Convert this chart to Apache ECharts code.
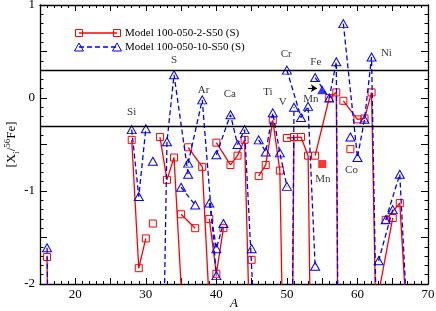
<!DOCTYPE html>
<html><head><meta charset="utf-8">
<script src="https://cdn.jsdelivr.net/npm/echarts@6/dist/echarts.min.js"></script>
<style>html,body{margin:0;padding:0;background:#fff}#c{width:436px;height:311px}</style>
</head><body><div id="c"></div>
<script>
// Elements and their stable isotopes (mass numbers A)
const elements = ['O','Si','P','S','Cl','Ar','K','Ca','Sc','Ti','V','Cr','Fe','Co','Ni','Cu','Zn'];
const isotopes = [[16,17,18],[28,29,30],[31],[32,33,34,36],[35,37],[36,38,40],[39,40,41],[40,42,43,44,46,48],[45],[46,47,48,49,50],[50,51],[50,52,53,54],[54,56,57,58],[59],[58,60,61,62,64],[63,65],[64,66,67,68,70]];
// [X_i/56Fe] for Model 100-050-2-S50 (S)  (values below -2 are off the plot)
const model2 = [[-1.71,-8,-8],[-0.45,-1.83,-1.51],[-1.35],[-0.42,-0.88,-0.64,-3.4],[-1.25,-1.40],[-0.53,-0.74,-3.7],[-1.30,-1.89,-1.40],[-0.48,-0.72,-0.62,-0.45,-6.2,-5],[-1.74],[-0.84,-0.72,-0.24,-0.78,-5.1],[-10,-0.42],[-0.43,-0.42,-0.62,-6.3],[-0.62,0.00,0.06,-12],[-0.55],[-0.03,-0.23,-0.22,0.06,-8],[-2.1,-1.29],[-1.31,-1.13,-2.4,-3,-4]];
// [X_i/56Fe] for Model 100-050-10-S50 (S)
const model10 = [[-1.61,-8,-8],[-0.34,-1.06,-0.33],[-0.68],[-5,-0.47,0.25,-0.82],[-0.96,-1.15],[-0.70,-0.02,-1.91],[-1.13,-1.62,-1.35],[-0.61,-0.18,-0.50,-0.34,-3.3,-5],[-1.62],[-0.45,-0.58,-0.16,-0.59,-0.95],[-10,-0.10],[0.30,-0.21,-0.09,-1.81],[0.22,0.00,0.39,-12],[-0.42],[0.80,-0.64,-0.23,0.44,-8],[-1.75,-1.20],[-1.31,-0.82,-2.3,-3,-4]];
// 55Mn (single isotope, filled markers)
const mnA = 55;
const mnModel2 = -0.71;
const mnModel10 = 0.09;
// Element labels
const labelNames = ['Si','S','Ar','Ca','Ti','V','Cr','Fe','Mn','Ni','Mn','Co'];
const labelA = [28.0,34.0,38.2,41.9,47.3,49.4,49.9,54.1,53.4,64.1,55.1,59.15];
const labelV = [-0.15,0.41,0.09,0.04,0.06,-0.04,0.47,0.39,-0.01,0.48,-0.87,-0.77];
const refLines = [0.3,-0.3];
const xTickLabels = [20,30,40,50,60,70];
const yTickLabels = [-2,-1,0,1];
const legendNames = ['Model 100-050-2-S50 (S)','Model 100-050-10-S50 (S)'];

const FONT = "'Liberation Serif','DejaVu Serif',serif";
const RED = '#ff0000', BLUE = '#0000ff';

const series = [];
elements.forEach((el, i) => {
  series.push({
    type:'line', name: legendNames[0] + ' ' + el, xAxisIndex:0, yAxisIndex:0,
    data: isotopes[i].map((a, j) => [a, model2[i][j]]),
    symbol:'rect', symbolSize:7, showAllSymbol:true, clip:true, z:3,
    lineStyle:{color:RED, width:1.3, type:'solid'},
    itemStyle:{color:'rgba(0,0,0,0)', borderColor:RED, borderWidth:1},
    emphasis:{disabled:true}, animation:false
  });
  series.push({
    type:'line', name: legendNames[1] + ' ' + el, xAxisIndex:0, yAxisIndex:0,
    data: isotopes[i].map((a, j) => [a, model10[i][j]]),
    symbol:'triangle', symbolSize:[9,8], showAllSymbol:true, clip:true, z:4,
    lineStyle:{color:BLUE, width:1.3, type:[5,3]},
    itemStyle:{color:'rgba(0,0,0,0)', borderColor:BLUE, borderWidth:1},
    emphasis:{disabled:true}, animation:false
  });
});
// filled Mn markers
series.push({type:'scatter', data:[[mnA, mnModel2]], symbol:'rect', symbolSize:8,
  itemStyle:{color:RED}, z:5, animation:false});
series.push({type:'scatter', data:[[mnA, mnModel10]], symbol:'triangle', symbolSize:[10,9],
  itemStyle:{color:BLUE}, z:5, animation:false});
// reference lines and arrow
series.push({type:'line', data:[], animation:false, z:2,
  markLine:{silent:true, symbol:['none','none'], label:{show:false},
    lineStyle:{color:'#000', width:1.3, type:'solid'},
    data: refLines.map(v => ({yAxis:v}))}});
series.push({type:'line', data:[], animation:false, z:6,
  markLine:{silent:true, symbol:['none','arrow'], symbolSize:6, label:{show:false},
    lineStyle:{color:'#000', width:1.2, type:'solid'},
    data:[[{coord:[53.0,0.104]},{coord:[54.25,0.104]}]]}});
// element labels
series.push({type:'scatter', symbolSize:1, itemStyle:{color:'rgba(0,0,0,0)'}, z:7, animation:false,
  data: labelNames.map((n, i) => ({name:n, value:[labelA[i], labelV[i]]})),
  label:{show:true, position:'inside', formatter: p => p.name, color:'#000', fontFamily:FONT, fontSize:11}});

const tickStyle = {color:'#000', width:1};
const xCommon = {type:'value', min:15, max:70, interval:5,
  axisLine:{onZero:false, lineStyle:{color:'#000', width:1.3}},
  axisTick:{inside:true, length:6, lineStyle:tickStyle},
  minorTick:{show:true, splitNumber:5, length:3, lineStyle:tickStyle},
  splitLine:{show:false}, minorSplitLine:{show:false}};
const yCommon = {type:'value', min:-2, max:1, interval:0.5,
  axisLine:{show:true, onZero:false, lineStyle:{color:'#000', width:1.3}},
  axisTick:{show:true, inside:true, length:7, lineStyle:tickStyle},
  minorTick:{show:true, splitNumber:5, length:3.5, lineStyle:tickStyle},
  splitLine:{show:false}, minorSplitLine:{show:false}};

const option = {
  backgroundColor:'#fff',
  animation:false,
  grid:{left:40, right:8, top:5, bottom:27, containLabel:false, outerBoundsMode:'none'},
  xAxis:[
    Object.assign({}, xCommon, {position:'bottom',
      axisLabel:{color:'#000', fontFamily:FONT, fontSize:13, margin:4,
        formatter: v => xTickLabels.includes(v) ? String(v) : ''},
      name:'A', nameLocation:'middle', nameGap:13, nameMoveOverlap:false,
      nameTextStyle:{color:'#000', fontFamily:FONT, fontSize:13, fontStyle:'italic', verticalAlign:'top'}}),
    Object.assign({}, xCommon, {position:'top', axisLabel:{show:false}})
  ],
  yAxis:[
    Object.assign({}, yCommon, {position:'left',
      axisLabel:{color:'#000', fontFamily:FONT, fontSize:13, margin:5,
        formatter: v => yTickLabels.includes(v) ? String(v) : ''},
      name:'{a|[X}{s|i}{a|/}{p|56}{a|Fe]}', nameLocation:'middle', nameGap:28, nameRotate:90, nameMoveOverlap:false,
      nameTextStyle:{color:'#000', fontFamily:FONT, fontSize:13, verticalAlign:'middle',
        rich:{a:{fontFamily:FONT, fontSize:13, color:'#000', lineHeight:18},
              s:{fontFamily:FONT, fontSize:9, color:'#000', verticalAlign:'bottom', lineHeight:18},
              p:{fontFamily:FONT, fontSize:9, color:'#000', verticalAlign:'top', lineHeight:18}}}}),
    Object.assign({}, yCommon, {position:'right', axisLabel:{show:false}})
  ],
  graphic:[
    {type:'line', shape:{x1:79, y1:33, x2:117, y2:33}, style:{stroke:RED, lineWidth:1.3}},
    {type:'rect', shape:{x:75.5, y:29.5, width:7, height:7}, style:{fill:'rgba(0,0,0,0)', stroke:RED, lineWidth:1}},
    {type:'rect', shape:{x:113.5, y:29.5, width:7, height:7}, style:{fill:'rgba(0,0,0,0)', stroke:RED, lineWidth:1}},
    {type:'text', x:125, y:33, style:{text:legendNames[0], fill:'#000', font:"11px 'Liberation Serif',serif", verticalAlign:'middle'}},
    {type:'line', shape:{x1:79, y1:47, x2:117, y2:47}, style:{stroke:BLUE, lineWidth:1.3, lineDash:[5,3]}},
    {type:'polygon', shape:{points:[[79,43],[83.5,51],[74.5,51]]}, style:{fill:'rgba(0,0,0,0)', stroke:BLUE, lineWidth:1}},
    {type:'polygon', shape:{points:[[117,43],[121.5,51],[112.5,51]]}, style:{fill:'rgba(0,0,0,0)', stroke:BLUE, lineWidth:1}},
    {type:'text', x:125, y:47, style:{text:legendNames[1], fill:'#000', font:"11px 'Liberation Serif',serif", verticalAlign:'middle'}}
  ],
  series: series
};
const chart = echarts.init(document.getElementById('c'), null, {renderer:'canvas'});
chart.setOption(option);
</script></body></html>
